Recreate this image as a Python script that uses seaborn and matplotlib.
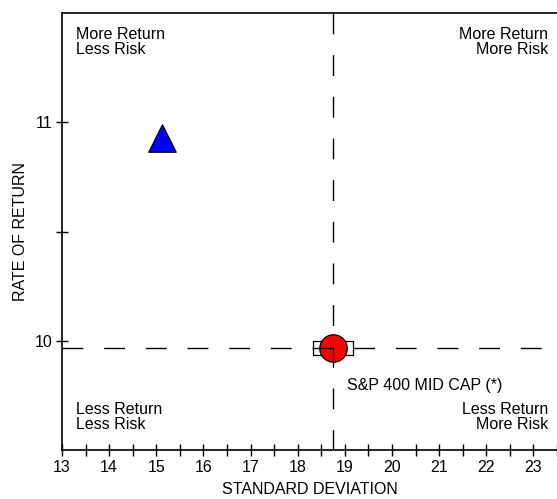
import matplotlib
matplotlib.use("Agg")
import matplotlib.pyplot as plt
import seaborn as sns
import pandas as pd

# Data
series_names = ["Fund", "S&P 400 MID CAP (*)", "Benchmark box"]
std_dev = [15.13, 18.74, 18.74]
returns = [10.927, 9.967, 9.967]
x_ticks = [13, 14, 15, 16, 17, 18, 19, 20, 21, 22, 23]
y_ticks = [10, 11]
quadrant_labels = ["More Return\nLess Risk", "More Return\nMore Risk",
                   "Less Return\nLess Risk", "Less Return\nMore Risk"]
x_label = "STANDARD DEVIATION"
y_label = "RATE OF RETURN"

df = pd.DataFrame({"name": series_names, "sd": std_dev, "ret": returns})

sns.set_style("white")
plt.rcParams["font.family"] = ["Liberation Sans", "DejaVu Sans"]
plt.rcParams["text.color"] = "black"

fig = plt.figure(figsize=(5.57, 4.99), dpi=100)
ax = fig.add_axes([62/557, 49/499, (557-62)/557, 437/499])

# box marker (under circle)
box = [(-1.4, -0.5), (1.4, -0.5), (1.4, 0.5), (-1.4, 0.5), (-1.4, -0.5)]
sns.scatterplot(data=df.iloc[[2]], x="sd", y="ret", marker=box, s=830,
                color="white", edgecolor="black", linewidth=0.9, ax=ax, zorder=2)
sns.scatterplot(data=df.iloc[[1]], x="sd", y="ret", marker="o", s=390,
                color="#ff0000", edgecolor="black", linewidth=0.9, ax=ax, zorder=3)
sns.scatterplot(data=df.iloc[[0]], x="sd", y="ret", marker="^", s=390,
                color="#0000ff", edgecolor="black", linewidth=0.9, ax=ax, zorder=3)

# crosshair at benchmark
ax.axvline(df.loc[1, "sd"], ymin=1, ymax=0, color="black", lw=1,
           dashes=(15, 15), zorder=4)
ax.axhline(df.loc[1, "ret"], color="black", lw=1, dashes=(15, 15), zorder=4)

fs = 11.5
ax.annotate(series_names[1], (df.loc[1, "sd"], df.loc[1, "ret"]),
            xytext=(10.5, -27), textcoords="offset points", fontsize=fs,
            ha="left", va="center", color="black")

ax.set_xlim(13, 13 + 495/47.5)
ax.set_ylim(9.5, 11.5)
ax.set_xticks(x_ticks)
ax.set_xticks([t + 0.5 for t in x_ticks], minor=True)
ax.set_yticks(y_ticks)
ax.set_yticks([10.5], minor=True)
ax.tick_params(axis="both", which="both", direction="inout", color="black",
               labelsize=fs, width=1, bottom=True, left=True, top=False,
               right=False, labelcolor="black")
ax.tick_params(axis="both", which="both", length=8, pad=3)

for s in ["left", "bottom", "top"]:
    ax.spines[s].set_color("black")
    ax.spines[s].set_linewidth(1.2)
ax.spines["right"].set_visible(False)

ax.set_xlabel(x_label, fontsize=fs, color="black")
ax.set_ylabel(y_label, fontsize=fs, color="black")
ax.xaxis.set_label_coords(0.5, -40/437)
ax.yaxis.set_label_coords(-41/495, 0.5)
ax.xaxis.label.set_va("center")
ax.yaxis.label.set_va("center")

ls = 1.0
ax.text(14/495, 1 - 14/437, quadrant_labels[0], transform=ax.transAxes,
        ha="left", va="top", fontsize=fs, linespacing=ls, color="black")
ax.text(486/495, 1 - 14/437, quadrant_labels[1], transform=ax.transAxes,
        ha="right", va="top", fontsize=fs, linespacing=ls, color="black")
ax.text(14/495, 18/437, quadrant_labels[2], transform=ax.transAxes,
        ha="left", va="bottom", fontsize=fs, linespacing=ls, color="black")
ax.text(486/495, 18/437, quadrant_labels[3], transform=ax.transAxes,
        ha="right", va="bottom", fontsize=fs, linespacing=ls, color="black")

fig.savefig("out.png", dpi=100)
